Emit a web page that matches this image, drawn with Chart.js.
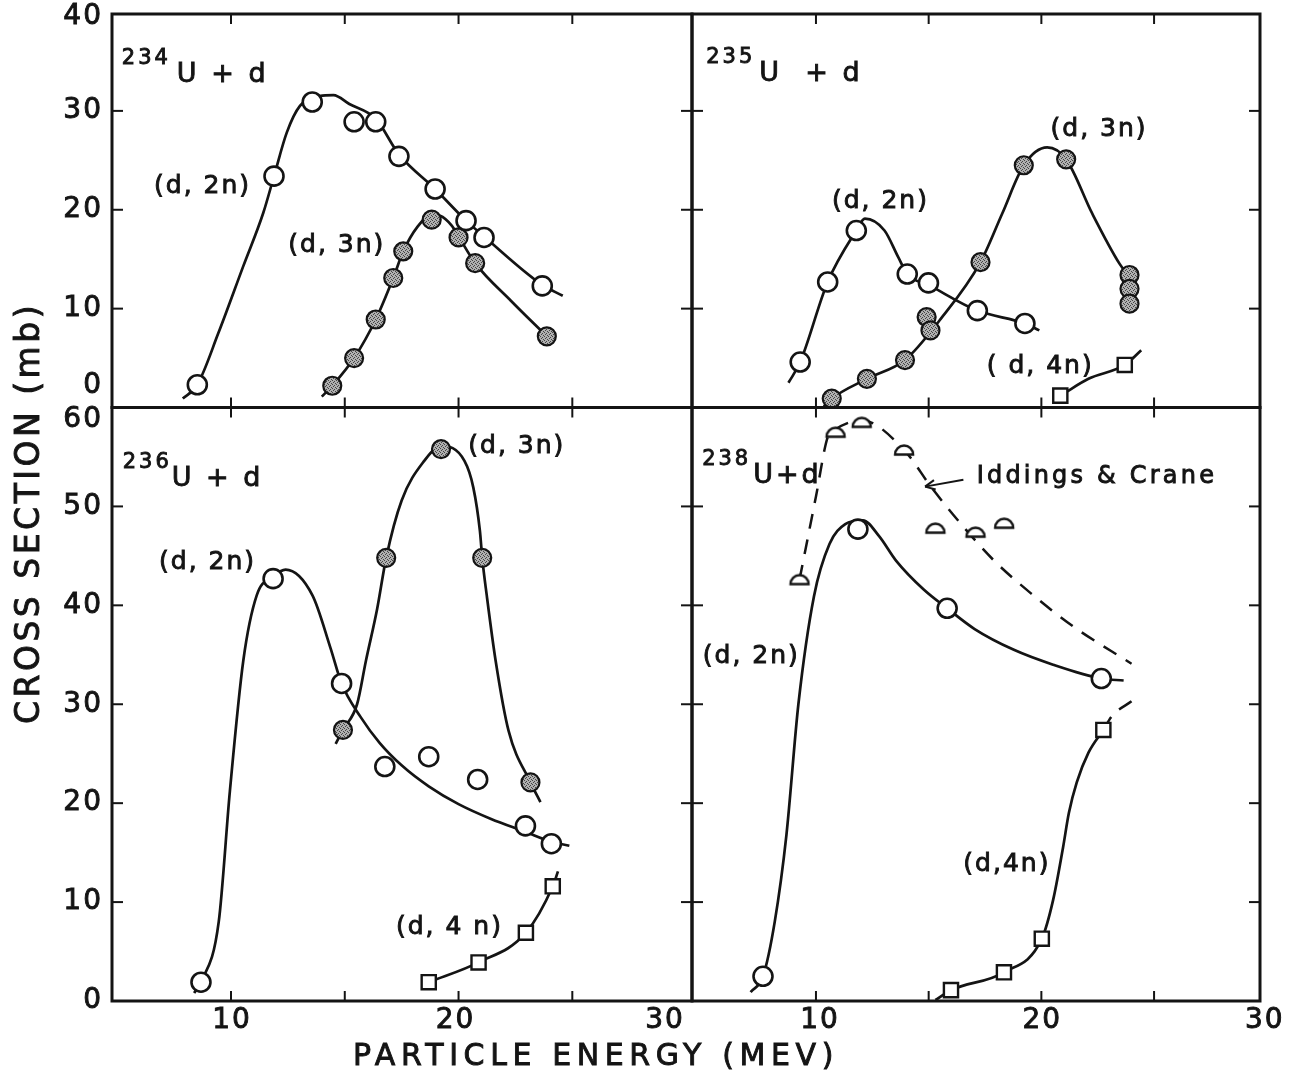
<!DOCTYPE html>
<html>
<head>
<meta charset="utf-8">
<script src="https://cdn.jsdelivr.net/npm/chart.js@4.4.0/dist/chart.umd.min.js"></script>
<style>
  html, body { margin: 0; padding: 0; background: #fff; }
  #wrap { width: 1296px; height: 1082px; }
</style>
</head>
<body>
<div id="wrap"><canvas id="chart" width="1296" height="1082"></canvas></div>
<script>
'use strict';

// values: [particle energy (MeV), cross section (mb)]

// 234U + d
const u234_d2n = [[8.52, 2.3], [11.89, 23.4], [13.57, 30.9], [15.41, 28.9], [16.36, 28.9], [17.38, 25.4], [18.97, 22.1], [20.33, 18.9], [21.12, 17.2], [23.68, 12.3]];
const u234_d2n_curve = [[7.88, 0.9], [8.52, 2.3], [9.44, 7.5], [10.54, 14.3], [11.42, 19.7], [11.89, 23.4], [12.45, 27.8], [13.03, 30.5], [13.9, 31.5], [14.5, 31.6], [15.2, 30.7], [16.36, 29.2], [17.38, 25.6], [18.97, 22.1], [20.33, 18.9], [21.12, 17.3], [23.68, 12.4], [24.58, 11.3]];
const u234_d3n = [[14.45, 2.2], [15.41, 5.0], [16.36, 8.9], [17.13, 13.1], [17.57, 15.8], [18.82, 19.0], [20.0, 17.2], [20.73, 14.6], [23.88, 7.2]];
const u234_d3n_curve = [[13.99, 1.1], [14.45, 2.2], [15.41, 5.0], [16.36, 8.9], [17.13, 13.1], [17.57, 15.8], [18.2, 18.3], [18.82, 19.5], [19.19, 19.4], [19.7, 18.4], [20.0, 17.3], [20.73, 14.6], [22.3, 10.8], [23.88, 7.2]];

// 235U + d
const u235_d2n = [[9.30, 4.6], [10.52, 12.7], [11.79, 17.9], [14.05, 13.5], [14.99, 12.6], [17.16, 9.8], [19.27, 8.5]];
const u235_d2n_curve = [[8.78, 2.5], [9.30, 4.6], [10.52, 12.7], [11.79, 17.9], [12.17, 19.1], [13.04, 17.9], [13.65, 15.2], [14.05, 13.5], [14.99, 12.4], [17.16, 9.8], [19.27, 8.5], [19.91, 7.8]];
const u235_d3n = [[10.70, 0.9], [12.26, 2.9], [13.95, 4.8], [14.91, 9.15], [15.08, 7.8], [17.3, 14.7], [19.22, 24.5], [21.1, 25.1], [23.91, 13.4], [23.91, 12.0], [23.91, 10.5]];
const u235_d3n_curve = [[10.35, 0.1], [10.70, 0.9], [12.26, 2.9], [13.95, 4.8], [15.48, 8.8], [17.3, 14.7], [18.26, 19.6], [19.22, 24.5], [20.26, 26.3], [21.1, 25.1], [22.26, 19.6], [23.48, 14.5], [23.91, 13.2]];
const u235_d4n = [[20.84, 1.2], [23.7, 4.3]];
const u235_d4n_curve = [[20.6, 0.9], [20.84, 1.2], [22.09, 2.9], [23.7, 4.3], [24.43, 5.8]];

// 236U + d
const u236_d2n = [[8.68, 1.9], [11.85, 42.7], [14.86, 32.1], [16.76, 23.7], [18.69, 24.7], [20.84, 22.4], [22.94, 17.7], [24.08, 15.9]];
const u236_d2n_curve = [[8.38, 0.8], [8.68, 1.9], [9.46, 8.0], [9.95, 21.2], [10.54, 34.4], [11.13, 41.0], [11.85, 42.9], [12.4, 43.6], [13.58, 41.0], [14.37, 35.7], [14.86, 32.1], [15.7, 28.7], [16.53, 26.1], [17.51, 23.8], [18.69, 21.7], [20.0, 19.9], [21.43, 18.4], [22.94, 17.1], [24.08, 16.1], [24.87, 15.7]];
const u236_d3n = [[14.92, 27.4], [16.82, 44.8], [19.23, 55.8], [21.04, 44.8], [23.16, 22.1]];
const u236_d3n_curve = [[14.6, 26.0], [14.92, 27.4], [15.54, 30.0], [15.93, 34.4], [16.42, 39.6], [16.82, 44.8], [17.5, 50.6], [18.49, 54.6], [19.23, 56.1], [20.26, 54.6], [20.65, 51.9], [20.94, 47.5], [21.04, 44.8], [21.24, 41.0], [21.63, 34.4], [22.2, 27.3], [23.16, 22.1], [23.6, 20.1]];
const u236_d4n = [[18.69, 1.9], [20.88, 3.9], [22.96, 6.9], [24.14, 11.6]];
const u236_d4n_curve = [[18.69, 1.9], [20.88, 3.9], [22.96, 6.9], [24.14, 11.6], [24.37, 13.1]];

// 238U + d
const u238_d2n = [[7.65, 2.5], [11.86, 47.7], [15.82, 39.7], [22.66, 32.6]];
const u238_d2n_curve = [[7.1, 0.9], [7.65, 2.5], [8.17, 8.0], [8.69, 16.8], [9.22, 30.0], [9.91, 40.9], [10.6, 46.2], [11.3, 48.2], [12.08, 48.6], [12.8, 47.0], [13.56, 44.5], [14.78, 41.6], [15.82, 39.7], [17.04, 37.6], [18.78, 35.5], [20.52, 34.0], [22.66, 32.6], [23.65, 32.4]];
const u238_iddings = [[9.27, 42.6], [10.87, 57.5], [12.03, 58.5], [13.91, 55.7], [15.3, 47.8], [17.08, 47.4], [18.35, 48.3]];
const u238_iddings_curve = [[9.27, 42.6], [10.0, 51.0], [10.52, 57.0], [10.87, 57.8], [12.03, 58.7], [13.91, 55.7], [15.13, 51.9], [16.52, 48.0], [17.91, 44.5], [19.65, 41.0], [21.39, 37.9], [24.0, 34.1]];
const u238_d4n = [[15.99, 1.1], [18.34, 2.9], [20.02, 6.3], [22.75, 27.4]];
const u238_d4n_curve = [[15.3, 0.1], [15.99, 1.1], [18.34, 2.9], [20.02, 6.3], [20.52, 10.2], [20.96, 15.5], [21.22, 19.0], [21.57, 22.1], [22.09, 25.1], [22.75, 27.4]];
const u238_d4n_extension = [[22.75, 27.4], [23.13, 28.8], [24.0, 30.3]];

// axes
const xTickMarks = [10, 15, 20, 25];
const xTickLabels = [10, 20, 30];
const yTickMarksTop = [10, 20, 30];
const yTickLabelsTop = [0, 10, 20, 30, 40];
const yTickMarksBottom = [10, 20, 30, 40, 50];
const yTickLabelsBottom = [0, 10, 20, 30, 40, 50, 60];

const FONT = '"DejaVu Sans", "Liberation Sans", sans-serif';
const INK = '#141414';

// stippled grey fill for the (d,3n) points
const stipple = (function () {
  const c = document.createElement('canvas');
  c.width = 4; c.height = 4;
  const g = c.getContext('2d');
  g.fillStyle = '#b0b0b0';
  g.fillRect(0, 0, 4, 4);
  g.fillStyle = '#444';
  [[0, 0], [2, 1], [1, 2], [3, 3]].forEach(p => g.fillRect(p[0], p[1], 1, 1));
  return g.createPattern(c, 'repeat');
})();

// half-circle marker used for Iddings & Crane
const dome = (function () {
  const c = document.createElement('canvas');
  c.width = 24; c.height = 14;
  const g = c.getContext('2d');
  g.beginPath();
  g.arc(12, 11.5, 9, Math.PI, 2 * Math.PI);
  g.closePath();
  g.fillStyle = '#fff';
  g.fill();
  g.lineWidth = 2.4;
  g.strokeStyle = INK;
  g.stroke();
  return c;
})();

const xy = a => a.map(p => ({ x: p[0], y: p[1] }));

function points(data, xID, yID, kind) {
  const ds = {
    data: xy(data), xAxisID: xID, yAxisID: yID, order: 1, clip: false,
    showLine: false, pointRadius: 9.5, pointBorderWidth: 2.6,
    pointBorderColor: INK, pointBackgroundColor: '#fff', pointStyle: 'circle'
  };
  if (kind === 'filled') { ds.pointBackgroundColor = stipple; ds.pointBorderWidth = 2.2; ds.pointRadius = 9; }
  if (kind === 'square') { ds.pointStyle = 'rect'; ds.pointRadius = 10; ds.pointBorderWidth = 2.4; }
  if (kind === 'dome') { ds.pointStyle = dome; }
  return ds;
}

function curve(data, xID, yID, dashed) {
  return {
    data: xy(data), xAxisID: xID, yAxisID: yID, order: 2, clip: false,
    showLine: true, pointRadius: 0, borderColor: INK, borderWidth: dashed ? 2.5 : 2.7,
    borderDash: dashed ? [15, 11] : [], cubicInterpolationMode: 'monotone', fill: false
  };
}

const datasets = [
  points(u234_d2n, 'xL', 'yT', 'open'),
  points(u234_d3n, 'xL', 'yT', 'filled'),
  curve(u234_d2n_curve, 'xL', 'yT'),
  curve(u234_d3n_curve, 'xL', 'yT'),

  points(u235_d2n, 'xR', 'yT', 'open'),
  points(u235_d3n, 'xR', 'yT', 'filled'),
  points(u235_d4n, 'xR', 'yT', 'square'),
  curve(u235_d2n_curve, 'xR', 'yT'),
  curve(u235_d3n_curve, 'xR', 'yT'),
  curve(u235_d4n_curve, 'xR', 'yT'),

  points(u236_d2n, 'xL', 'yB', 'open'),
  points(u236_d3n, 'xL', 'yB', 'filled'),
  points(u236_d4n, 'xL', 'yB', 'square'),
  curve(u236_d2n_curve, 'xL', 'yB'),
  curve(u236_d3n_curve, 'xL', 'yB'),
  curve(u236_d4n_curve, 'xL', 'yB'),

  points(u238_d2n, 'xR', 'yB', 'open'),
  points(u238_iddings, 'xR', 'yB', 'dome'),
  points(u238_d4n, 'xR', 'yB', 'square'),
  curve(u238_d2n_curve, 'xR', 'yB'),
  curve(u238_iddings_curve, 'xR', 'yB', true),
  curve(u238_d4n_curve, 'xR', 'yB'),
  curve(u238_d4n_extension, 'xR', 'yB', true)
];

function axis(extra) {
  return Object.assign({
    type: 'linear', display: true,
    ticks: { display: false },
    grid: { display: false, drawTicks: false },
    border: { display: false }
  }, extra);
}

const panels = [
  { x: 'xL', y: 'yT', yMarks: yTickMarksTop },
  { x: 'xR', y: 'yT', yMarks: yTickMarksTop },
  { x: 'xL', y: 'yB', yMarks: yTickMarksBottom },
  { x: 'xR', y: 'yB', yMarks: yTickMarksBottom }
];

// curve / panel labels, placed in data units of their panel
const notes = [
  { xs: 'xL', ys: 'yT', x: 5.2, y: 32.9, sup: '234', main: 'U + d', gap: 6 },
  { xs: 'xR', ys: 'yT', x: 5.13, y: 33.0, sup: '235', main: 'U  + d', gap: 4 },
  { xs: 'xL', ys: 'yB', x: 5.24, y: 52.1, sup: '236', main: 'U + d', gap: 0 },
  { xs: 'xR', ys: 'yB', x: 4.95, y: 52.4, sup: '238', main: 'U+d', gap: 2 },
  { xs: 'xL', ys: 'yT', x: 8.75, y: 22.4, text: '(d, 2n)' },
  { xs: 'xL', ys: 'yT', x: 14.65, y: 16.4, text: '(d, 3n)' },
  { xs: 'xR', ys: 'yT', x: 22.56, y: 28.1, text: '(d, 3n)' },
  { xs: 'xR', ys: 'yT', x: 12.86, y: 20.8, text: '(d, 2n)' },
  { xs: 'xR', ys: 'yT', x: 19.95, y: 4.1, text: '( d, 4n)' },
  { xs: 'xL', ys: 'yB', x: 22.56, y: 56.1, text: '(d, 3n)' },
  { xs: 'xL', ys: 'yB', x: 8.97, y: 44.3, text: '(d, 2n)' },
  { xs: 'xL', ys: 'yB', x: 19.6, y: 7.4, text: '(d, 4 n)' },
  { xs: 'xR', ys: 'yB', x: 7.13, y: 34.8, text: '(d, 2n)' },
  { xs: 'xR', ys: 'yB', x: 18.47, y: 13.8, text: '(d,4n)' },
  { xs: 'xR', ys: 'yB', x: 17.13, y: 53.0, text: 'Iddings & Crane', align: 'left', size: 24, spacing: 3.2 }
];

// filled text with a thin outline, to get the heavier pen lettering of the original
function text(ctx, s, x, y, size, spacing, align) {
  ctx.font = size + 'px ' + FONT;
  ctx.letterSpacing = spacing + 'px';
  ctx.textAlign = align;
  ctx.lineWidth = 0.9;
  ctx.fillText(s, x, y);
  ctx.strokeText(s, x, y);
}

const figurePlugin = {
  id: 'figure',
  afterDatasetsDraw(chart) {
    const ctx = chart.ctx;
    const s = chart.scales;
    ctx.save();
    ctx.strokeStyle = INK;
    ctx.fillStyle = INK;
    ctx.lineCap = 'butt';

    const seg = (x1, y1, x2, y2) => { ctx.beginPath(); ctx.moveTo(x1, y1); ctx.lineTo(x2, y2); ctx.stroke(); };

    // frames and inward tick marks
    panels.forEach(p => {
      const xs = s[p.x], ys = s[p.y];
      ctx.lineWidth = 3;
      ctx.strokeRect(xs.left, ys.top, xs.right - xs.left, ys.bottom - ys.top);
      ctx.lineWidth = 2;
      xTickMarks.forEach(v => {
        const px = xs.getPixelForValue(v);
        seg(px, ys.top, px, ys.top + 10);
        seg(px, ys.bottom, px, ys.bottom - 10);
      });
      p.yMarks.forEach(v => {
        const py = ys.getPixelForValue(v);
        seg(xs.left, py, xs.left + 11, py);
        seg(xs.right, py, xs.right - 11, py);
      });
    });

    // y tick labels
    ctx.textBaseline = 'middle';
    const yNudge = { yT: { 0: -22, 40: 5 }, yB: { 60: 12 } };
    [['yT', yTickLabelsTop], ['yB', yTickLabelsBottom]].forEach(([id, vals]) => {
      vals.forEach(v => {
        const py = s[id].getPixelForValue(v) + (yNudge[id][v] || 0);
        text(ctx, String(v), 103, py, 28, 2, 'right');
      });
    });

    // x tick labels
    const xNudge = { xL: { 20: -4, 30: -22 }, xR: { 10: 3, 30: -3 } };
    ['xL', 'xR'].forEach(id => {
      xTickLabels.forEach(v => {
        const px = s[id].getPixelForValue(v) + (xNudge[id][v] || 0);
        text(ctx, String(v), px + 1, 1021, 28, 2, 'center');
      });
    });

    // axis titles
    text(ctx, 'PARTICLE ENERGY (MEV)', 596, 1057, 30, 5.6, 'center');
    ctx.save();
    ctx.translate(30, 513);
    ctx.rotate(-Math.PI / 2);
    text(ctx, 'CROSS SECTION (mb)', 0, 0, 33, 3.5, 'center');
    ctx.restore();

    // labels
    ctx.textBaseline = 'alphabetic';
    notes.forEach(n => {
      const px = s[n.xs].getPixelForValue(n.x);
      const py = s[n.ys].getPixelForValue(n.y);
      if (n.sup) {
        ctx.font = '21px ' + FONT;
        ctx.letterSpacing = '3px';
        const w = ctx.measureText(n.sup).width;
        text(ctx, n.sup, px, py - 18, 21, 3, 'left');
        text(ctx, n.main, px + w + n.gap, py, 27, 3, 'left');
      } else {
        ctx.textBaseline = 'middle';
        text(ctx, n.text, px, py, n.size || 25, n.spacing || 2, n.align || 'center');
        ctx.textBaseline = 'alphabetic';
      }
    });

    // arrow from the Iddings & Crane label to the dashed curve
    const ax = s.xR, ay = s.yB;
    const tx = ax.getPixelForValue(16.54), ty = ay.getPixelForValue(52.7);
    const hx = ax.getPixelForValue(14.84), hy = ay.getPixelForValue(52.0);
    ctx.lineWidth = 2;
    seg(tx, ty, hx, hy);
    const ang = Math.atan2(ty - hy, tx - hx);
    [0.45, -0.45].forEach(d => seg(hx, hy, hx + 11 * Math.cos(ang + d), hy + 11 * Math.sin(ang + d)));

    ctx.restore();
  }
};

new Chart(document.getElementById('chart'), {
  type: 'scatter',
  data: { datasets },
  options: {
    responsive: false,
    animation: false,
    events: [],
    layout: { padding: { left: 0, top: 14, right: 36, bottom: 0 } },
    plugins: { legend: { display: false }, tooltip: { enabled: false } },
    scales: {
      xL: axis({ position: 'bottom', stack: 'x', stackWeight: 580, weight: 0, min: 4.77, max: 30.26, afterFit: sc => { sc.height = 81; } }),
      xR: axis({ position: 'bottom', stack: 'x', stackWeight: 568, weight: 1, min: 4.5, max: 29.7, afterFit: sc => { sc.height = 81; } }),
      yT: axis({ position: 'left', stack: 'y', stackWeight: 393.5, weight: 1, min: 0, max: 39.8, afterFit: sc => { sc.width = 112; } }),
      yB: axis({ position: 'left', stack: 'y', stackWeight: 593.5, weight: 0, min: 0, max: 60, afterFit: sc => { sc.width = 112; } })
    }
  },
  plugins: [figurePlugin]
});
</script>
</body>
</html>
